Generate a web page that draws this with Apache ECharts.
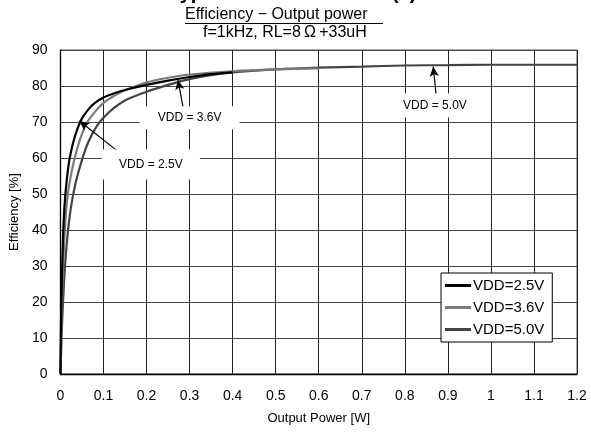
<!DOCTYPE html>
<html>
<head>
<meta charset="utf-8">
<script src="https://cdn.jsdelivr.net/npm/echarts@6/dist/echarts.min.js"></script>
<style>html,body{margin:0;padding:0;background:#fff}#c{width:591px;height:435px}</style>
</head>
<body>
<div id="c"></div>
<script>
// ---- data ----
var xTicks = [0, 0.1, 0.2, 0.3, 0.4, 0.5, 0.6, 0.7, 0.8, 0.9, 1, 1.1, 1.2];
var yTicks = [0, 10, 20, 30, 40, 50, 60, 70, 80, 90];
var seriesNames = ['VDD=2.5V', 'VDD=3.6V', 'VDD=5.0V'];
var vdd25 = [[0,0],[0.001,12],[0.002,20],[0.004,30],[0.006,38],[0.009,46],[0.013,52],[0.02,59],[0.03,64.5],[0.04,68.3],[0.05,71],[0.065,73.5],[0.08,75.3],[0.1,76.8],[0.125,78],[0.15,78.9],[0.2,80.3],[0.25,81.5],[0.3,82.5],[0.35,83.3],[0.4,83.8]];
var vdd36 = [[0,0],[0.0015,12],[0.003,20],[0.006,30],[0.01,40],[0.016,49],[0.024,55],[0.033,60],[0.045,65],[0.06,69.5],[0.08,72.8],[0.1,75.3],[0.125,77.3],[0.15,78.8],[0.2,81],[0.25,82.3],[0.3,83.2],[0.4,84.1],[0.5,84.6],[0.6,84.9]];
var vdd50 = [[0,0],[0.003,12],[0.006,20],[0.01,29],[0.016,38],[0.024,46],[0.035,53],[0.05,59.5],[0.065,64.5],[0.085,69],[0.1,71.2],[0.125,74],[0.15,76],[0.2,78.4],[0.25,80.3],[0.3,81.9],[0.35,83],[0.4,83.8],[0.5,84.6],[0.6,85.1],[0.7,85.4],[0.8,85.7],[0.9,85.8],[1.0,85.9],[1.1,85.9],[1.2,85.9]];
// annotations: label, arrow head [x,y], arrow tail [x,y], label centre [x,y]
var annoLabels = ['VDD = 3.6V', 'VDD = 2.5V', 'VDD = 5.0V'];
var annoHeads = [[0.273, 81.7], [0.044, 70.3], [0.866, 85.4]];
var annoTails = [[0.285, 74.0], [0.137, 61.5], [0.873, 77.3]];
var annoCentres = [[0.30, 71.2], [0.21, 58.2], [0.87, 74.6]];
var annoBoxes = [[100, 23], [98, 30], [95, 24]];

var chart = echarts.init(document.getElementById('c'), null, {renderer: 'canvas'});
var F = '"Liberation Sans", Arial, sans-serif';
var colors = ['#000000', '#7a7a7a', '#444444'];
var datas = [vdd25, vdd36, vdd50];

var series = datas.map(function (d, i) {
  return {
    name: seriesNames[i], type: 'line', data: d, showSymbol: false,
    smooth: 0.3, z: 3 + (2 - i),
    lineStyle: {color: colors[i], width: 2.2}, itemStyle: {color: colors[i]}
  };
});

var arrowLines = annoHeads.map(function (h, i) {
  return [{coord: annoTails[i], symbol: 'none'}, {coord: h, symbol: 'arrow'}];
});
series.push({
  type: 'line', data: [], z: 6, silent: true,
  markLine: {
    silent: true, animation: false, symbolSize: [7, 10],
    lineStyle: {color: '#000', width: 1.2, type: 'solid'},
    label: {show: false},
    data: arrowLines
  },
  markPoint: {
    silent: true, animation: false,
    data: annoCentres.map(function (c, i) {
      return {
        coord: c, symbol: 'rect', symbolSize: annoBoxes[i],
        itemStyle: {color: '#fff'},
        label: {show: true, position: 'inside', formatter: annoLabels[i], color: '#000', fontSize: 12, fontFamily: F}
      };
    })
  }
});

chart.setOption({
  animation: false,
  backgroundColor: '#fff',
  grid: {left: 59, right: 14, top: 50, bottom: 61, show: true, borderColor: '#555', borderWidth: 1},
  legend: {
    data: seriesNames, orient: 'vertical', left: 441, top: 273,
    backgroundColor: '#fff', borderColor: '#000', borderWidth: 1,
    padding: [5, 8, 5, 4], itemGap: 7, itemWidth: 26, itemHeight: 3, icon: 'rect',
    textStyle: {fontSize: 15, fontFamily: F, color: '#000', padding: [0, 0, 0, -3]}
  },
  xAxis: {
    type: 'value', min: 0, max: 1.2, interval: 0.1,
    name: 'Output Power [W]', nameLocation: 'middle', nameGap: 38,
    nameTextStyle: {fontSize: 13, fontFamily: F, color: '#000'},
    axisLine: {show: true, lineStyle: {color: '#000', width: 1.3}},
    axisTick: {show: false},
    axisLabel: {margin: 15, fontSize: 14, fontFamily: F, color: '#000',
      formatter: function (v) { return String(+v.toFixed(1)); }},
    splitLine: {show: true, lineStyle: {color: '#222', width: 1}}
  },
  yAxis: {
    type: 'value', min: 0, max: 90, interval: 10,
    name: 'Efficiency [%]', nameLocation: 'middle', nameGap: 38,
    nameTextStyle: {fontSize: 13, fontFamily: F, color: '#000'},
    axisLine: {show: true, lineStyle: {color: '#000', width: 1.3}},
    axisTick: {show: false},
    axisLabel: {margin: 13, fontSize: 14, fontFamily: F, color: '#000'},
    splitLine: {show: true, lineStyle: {color: '#444', width: 1}}
  },
  graphic: [
    {type: 'text', left: 169, top: -17, style: {text: 'Typical Characteristics (1)', font: 'bold 20px ' + F, fill: '#000'}},
    {type: 'text', left: 185, top: 7, style: {text: 'Efficiency − Output power', font: '16px ' + F, fill: '#000'}},
    {type: 'line', shape: {x1: 185, y1: 23.5, x2: 383, y2: 23.5}, style: {stroke: '#000', lineWidth: 1}},
    {type: 'text', left: 203, top: 25, style: {text: 'f=1kHz, RL=8\u2009Ω\u2009+33uH', font: '16px ' + F, fill: '#000'}}
  ],
  series: series
});
</script>
</body>
</html>
